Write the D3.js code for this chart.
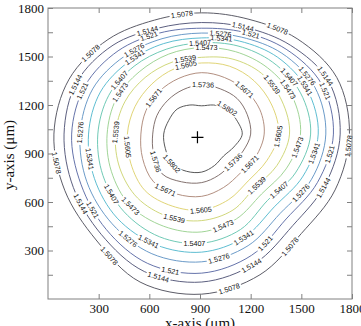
<!DOCTYPE html>
<html><head><meta charset="utf-8">
<script src="https://cdn.jsdelivr.net/npm/d3@7/dist/d3.min.js"></script>
<style>body{margin:0;background:#fff}</style>
</head><body>
<svg id="c" width="361" height="326"></svg>
<script>
// ---------- data (μm) ----------
const levels = [1.5078,1.5144,1.521,1.5276,1.5341,1.5407,1.5473,1.5539,1.5605,1.5671,1.5736,1.5802];
const levelText = ["1.5078","1.5144","1.521","1.5276","1.5341","1.5407","1.5473","1.5539","1.5605","1.5671","1.5736","1.5802"];
const c1_5078 = [[1785,1020],[1710,1370],[1475,1610],[1190,1730],[910,1770],[630,1725],[355,1605],[125,1360],[35,1020],[100,670],[285,365],[545,105],[910,30],[1255,150],[1500,405],[1700,675]];
const c1_5144 = [[1730,1020],[1660,1350],[1435,1570],[1170,1680],[910,1710],[650,1675],[385,1570],[170,1340],[95,1020],[150,690],[315,400],[570,170],[910,105],[1225,220],[1450,455],[1640,705]];
const c1_521  = [[1690,1020],[1620,1330],[1410,1545],[1160,1650],[910,1675],[660,1645],[415,1535],[220,1320],[140,1020],[195,710],[345,430],[590,220],[910,160],[1205,270],[1410,495],[1595,720]];
const c1_5276 = [[1645,1020],[1580,1310],[1385,1520],[1145,1620],[910,1645],[675,1610],[450,1500],[265,1300],[190,1020],[230,725],[380,465],[615,280],[910,230],[1185,330],[1375,530],[1560,740]];
const c1_5341 = [[1600,1020],[1535,1295],[1360,1495],[1135,1595],[910,1615],[685,1580],[480,1470],[310,1280],[240,1020],[275,745],[410,500],[640,335],[910,290],[1160,380],[1340,570],[1510,760]];
const c1_5407 = [[1555,1020],[1495,1275],[1330,1465],[1125,1565],[910,1585],[700,1545],[510,1440],[360,1260],[295,1020],[325,765],[450,540],[660,385],[910,345],[1140,430],[1300,610],[1465,780]];
const c1_5473 = [[1495,1020],[1445,1255],[1300,1430],[1110,1530],[910,1555],[715,1515],[540,1405],[405,1240],[350,1020],[375,790],[485,580],[685,450],[910,415],[1115,495],[1265,650],[1410,805]];
const c1_5539 = [[1430,1020],[1385,1225],[1265,1395],[1090,1485],[910,1495],[735,1465],[575,1370],[455,1220],[400,1020],[425,810],[530,625],[710,510],[910,485],[1095,550],[1225,690],[1355,825]];
const c1_5605 = [[1365,1020],[1325,1200],[1220,1350],[1075,1440],[910,1460],[750,1425],[615,1330],[515,1190],[470,1020],[490,840],[575,670],[735,575],[910,550],[1070,615],[1185,730],[1295,855]];
const c1_5671 = [[1280,1020],[1255,1170],[1170,1290],[1045,1370],[910,1400],[775,1365],[660,1285],[580,1165],[550,1020],[560,870],[625,725],[760,650],[910,635],[1040,690],[1140,780],[1230,880]];
const c1_5736 = [[1200,1020],[1180,1140],[1120,1240],[1020,1300],[910,1325],[800,1295],[710,1230],[645,1135],[620,1020],[625,900],[675,775],[790,725],[910,720],[1010,765],[1085,835],[1155,915]];
const c1_5802 = [[1150,1020],[1115,1110],[1060,1180],[980,1200],[910,1195],[840,1200],[765,1175],[715,1105],[685,1020],[695,930],[735,835],[820,790],[910,785],[985,825],[1040,885],[1100,940]];
const centerMark = [885,1000];
const xTicks = [300,600,900,1200,1500,1800];
const yTicks = [300,600,900,1200,1500,1800];
const yMinorTicks = [150,450,750,1050,1350,1650];
const xTitle = "x-axis (μm)", yTitle = "y-axis (μm)";

// ---------- layout / style ----------
const contours = [c1_5078,c1_5144,c1_521,c1_5276,c1_5341,c1_5407,c1_5473,c1_5539,c1_5605,c1_5671,c1_5736,c1_5802];
const colors = ["#4a4a56","#4a4d70","#5363a0","#5a8fc2","#4cb6cc","#5fc3ad","#95cf8a","#cbd36c","#dccf66","#a98272","#75625f","#454545"];
// label placement: direction (deg, from plot centre) where each inline label sits
const labelDirs = [
 [99.5,144,54,-5,-52,-80,-127,-169],
 [69,25,-24,-69,-107,-150,159,118],
 [64,19,-9,-60,-103,-145,160,118],
 [79,29,-31,-82,-125,179.5,129],
 [78,25,-10,-68,-116,-167.5,131],
 [90.6,33,-36,-94,-146,147],
 [87,27.5,-8,-77,-134.6,153],
 [102.5,35,-43,-108,178.7],
 [102.5,-2,-90.7,-170],
 [46,-32,-123,143],
 [88,-42,-149],
 [45,-135]
];
const pivot = [909,1021];

const svg = d3.select("#c");
const x = d3.scaleLinear().domain([0,1800]).range([48,352]);
const y = d3.scaleLinear().domain([0,1800]).range([299,8]);

const line = d3.line().x(d=>x(d[0])).y(d=>y(d[1])).curve(d3.curveCatmullRomClosed.alpha(0.5));
const defs = svg.append("defs");
const gLines = svg.append("g");
const gLabels = svg.append("g");
const cx = x(pivot[0]), cy = y(pivot[1]);

contours.forEach((pts,i)=>{
  const path = gLines.append("path").attr("d", line(pts)).attr("fill","none")
     .attr("stroke", colors[i]).attr("stroke-width",0.9);
  const node = path.node();
  const L = node.getTotalLength();
  const N = 600;
  const samples = d3.range(N).map(k=>{const p=node.getPointAtLength(k*L/N); return {p, a: Math.atan2(cy-p.y, p.x-cx)*180/Math.PI};});
  const mask = defs.append("mask").attr("id","m"+i).attr("maskUnits","userSpaceOnUse")
     .attr("x",0).attr("y",0).attr("width",361).attr("height",326);
  mask.append("rect").attr("width",361).attr("height",326).attr("fill","#fff");
  labelDirs[i].forEach(dir=>{
    let best=0,bd=1e9;
    samples.forEach((s,k)=>{let d=Math.abs(((s.a-dir)%360+540)%360-180); if(d<bd){bd=d;best=k;}});
    const p = samples[best].p;
    const p1 = samples[(best+3)%N].p, p0 = samples[(best-3+N)%N].p;
    let ang = Math.atan2(p1.y-p0.y, p1.x-p0.x)*180/Math.PI;
    if(ang>90) ang-=180; if(ang<-90) ang+=180;
    const t = gLabels.append("text").attr("transform",`translate(${p.x},${p.y}) rotate(${ang})`)
      .attr("text-anchor","middle").attr("dy","0.35em")
      .attr("font-family","Liberation Sans, Arial, sans-serif").attr("font-size",7.2)
      .attr("fill","#111").text(levelText[i]);
    const w = t.node().getComputedTextLength();
    mask.append("rect").attr("transform",`translate(${p.x},${p.y}) rotate(${ang})`)
      .attr("x",-w/2-1.5).attr("y",-3.5).attr("width",w+3).attr("height",7).attr("fill","#000");
  });
  path.attr("mask","url(#m"+i+")");
});

// centre cross
svg.append("path").attr("d",`M${x(centerMark[0])-6},${y(centerMark[1])}H${x(centerMark[0])+6}M${x(centerMark[0])},${y(centerMark[1])-6}V${y(centerMark[1])+6}`)
  .attr("stroke","#000").attr("stroke-width",1.2);

// frame and axes
const axisColor = "#808080";
svg.append("rect").attr("x",48).attr("y",8).attr("width",304).attr("height",291).attr("fill","none").attr("stroke",axisColor).attr("stroke-width",1);
function styleAxis(g){
  g.select(".domain").remove();
  g.selectAll(".tick line").attr("stroke",axisColor);
  g.selectAll(".tick text").attr("font-family","Liberation Serif, Times New Roman, serif").attr("font-size",13).attr("fill","#111");
}
const fmt = d3.format("d");
svg.append("g").attr("transform","translate(0,299)").call(d3.axisBottom(x).tickValues(xTicks).tickFormat(fmt).tickSizeInner(-5).tickSizeOuter(0).tickPadding(5)).call(styleAxis);
svg.append("g").attr("transform","translate(0,8)").call(d3.axisTop(x).tickValues(xTicks).tickSizeInner(-5).tickSizeOuter(0).tickFormat("")).call(styleAxis);
svg.append("g").attr("transform","translate(48,0)").call(d3.axisLeft(y).tickValues(yTicks).tickFormat(fmt).tickSizeInner(-5).tickSizeOuter(0).tickPadding(4)).call(styleAxis);
svg.append("g").attr("transform","translate(48,0)").call(d3.axisLeft(y).tickValues(yMinorTicks).tickSizeInner(-5).tickSizeOuter(0).tickFormat("")).call(styleAxis);
svg.append("g").attr("transform","translate(352,0)").call(d3.axisRight(y).tickValues(yTicks.concat(yMinorTicks)).tickSizeInner(-5).tickSizeOuter(0).tickFormat("")).call(styleAxis);

svg.append("text").attr("x",200).attr("y",328).attr("text-anchor","middle")
  .attr("font-family","Liberation Serif, Times New Roman, serif").attr("font-size",15).attr("fill","#111").text(xTitle);
svg.append("text").attr("transform","translate(14,155) rotate(-90)").attr("text-anchor","middle")
  .attr("font-family","Liberation Serif, Times New Roman, serif").attr("font-size",15).attr("fill","#111").text(yTitle);
</script>
</body></html>
